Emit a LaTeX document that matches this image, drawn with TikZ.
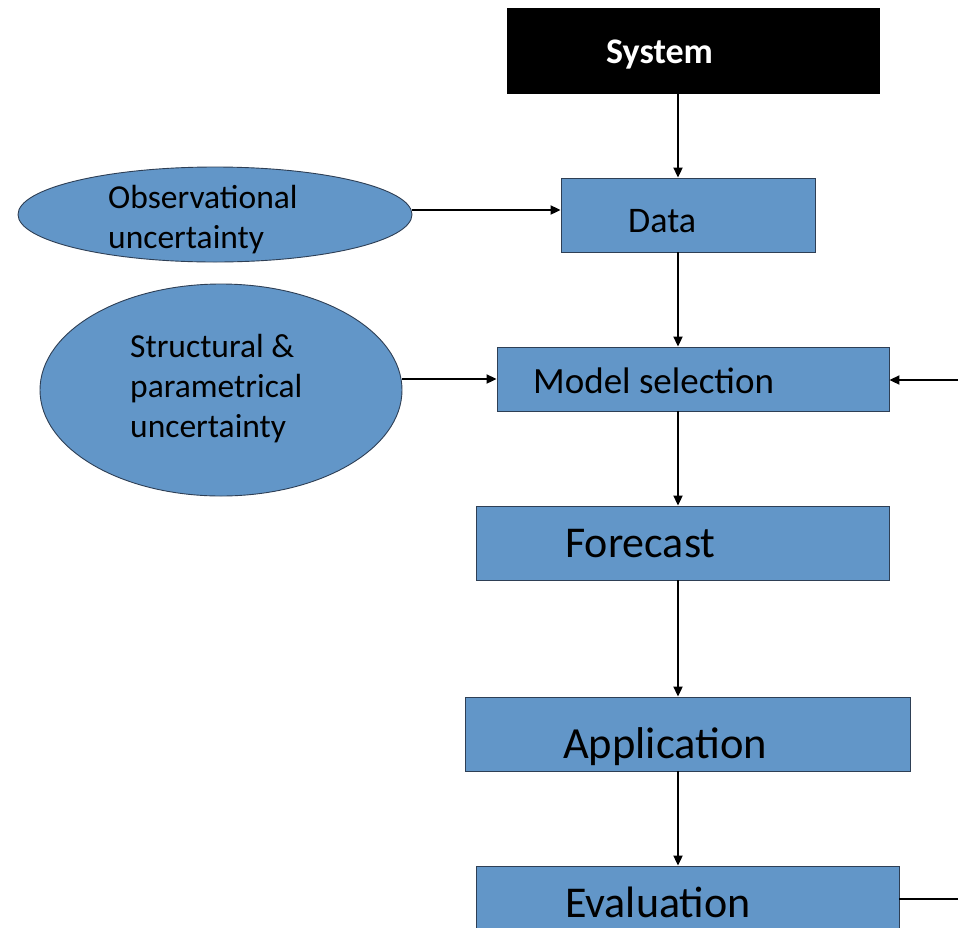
\documentclass[tikz,border=0pt]{standalone}
\usepackage{fontspec}
\setmainfont{Carlito}
\usetikzlibrary{arrows.meta,shapes.geometric}
\definecolor{boxblue}{HTML}{6296C8}
\definecolor{edgecol}{HTML}{2E3F55}
\tikzset{
  bluebox/.style={draw=edgecol, line width=0.9pt, fill=boxblue, rectangle, inner sep=0pt},
  blueell/.style={draw=edgecol, line width=0.9pt, fill=boxblue, ellipse, inner sep=0pt},
  lbl/.style={anchor=base west, inner sep=0pt, text=black},
  arr/.style={line width=2pt, draw=black, -{Triangle[length=10pt,width=9pt]}},
  plain/.style={line width=2pt, draw=black}
}
\begin{document}
\begin{tikzpicture}[x=1pt,y=-1pt]
\useasboundingbox (0,0) rectangle (958,927);
\clip (0,0) rectangle (958,927);
\fill[white] (0,0) rectangle (958,927);
\coordinate (spine) at (678,0);
\coordinate (fbin) at (958,380);
\coordinate (fbout) at (958,899);

% boxes
\node[rectangle, fill=black, draw=black, inner sep=0pt, minimum width=372pt, minimum height=85pt] (sys) at (693,50.5) {};
\node[lbl, text=white, font=\fontsize{36}{40}\selectfont\bfseries] (systxt) at (606,63) {System};

\node[bluebox, minimum width=254pt, minimum height=74pt] (data) at (688,215) {};
\node[lbl, font=\fontsize{36}{40}\selectfont] (datatxt) at (628,232) {Data};

\node[blueell, minimum width=394pt, minimum height=95pt] (obs) at (215,214.5) {};
\node[lbl, font=\fontsize{33.5}{40}\selectfont] (obs1) at (108,208) {Observational};
\node[lbl, font=\fontsize{33.5}{40}\selectfont] (obs2) at (108,248) {uncertainty};

\node[blueell, minimum width=362pt, minimum height=212pt] (str) at (221,390) {};
\node[lbl, font=\fontsize{33.5}{40}\selectfont] (str1) at (130,357) {Structural \&};
\node[lbl, font=\fontsize{33.5}{40}\selectfont] (str2) at (130,397) {parametrical};
\node[lbl, font=\fontsize{33.5}{40}\selectfont] (str3) at (130,437) {uncertainty};

\node[bluebox, minimum width=392pt, minimum height=64pt] (model) at (693,379) {};
\node[lbl, font=\fontsize{37}{42}\selectfont] (modeltxt) at (533,393) {Model selection};

\node[bluebox, minimum width=413pt, minimum height=74pt] (fc) at (682.5,543) {};
\node[lbl, font=\fontsize{44}{48}\selectfont] (fctxt) at (565,557) {Forecast};

\node[bluebox, minimum width=445pt, minimum height=74pt] (app) at (687.5,734) {};
\node[lbl, font=\fontsize{44.5}{48}\selectfont] (apptxt) at (563,758) {Application};

\node[bluebox, minimum width=423pt, minimum height=66pt] (eval) at (687.5,899) {};
\node[lbl, font=\fontsize{44}{48}\selectfont] (evaltxt) at (565,917) {Evaluation};

% connectors
\draw[arr] (sys.south -| spine) -- (data.north -| spine);
\draw[arr] (data.south -| spine) -- (model.north -| spine);
\draw[arr] (model.south -| spine) -- (fc.north -| spine);
\draw[arr] (fc.south -| spine) -- (app.north -| spine);
\draw[arr] (app.south -| spine) -- (eval.north -| spine);
\draw[arr] ([yshift=4.5pt]obs.east) -- ([yshift=4.5pt]obs.east -| data.west);
\draw[arr] (str.east |- model.west) -- (model.west);
\draw[arr] (fbin) -- (fbin -| model.east);
\draw[plain] (eval.east) -- (fbout);
\end{tikzpicture}
\end{document}
